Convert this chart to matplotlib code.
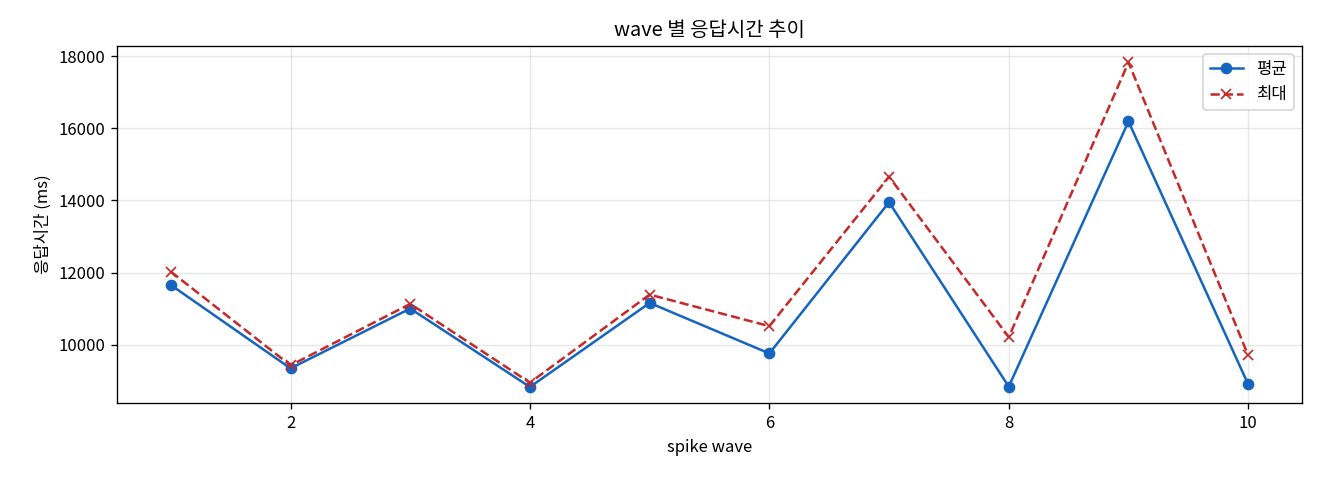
import matplotlib
matplotlib.use("Agg")
import matplotlib.pyplot as plt

plt.rcParams['font.family'] = ['Noto Sans CJK KR', 'DejaVu Sans']
plt.rcParams['axes.unicode_minus'] = False

waves = [1, 2, 3, 4, 5, 6, 7, 8, 9, 10]
avg_ms = [11657, 9346, 11004, 8831, 11160, 9760, 13950, 8840, 16188, 8904]
max_ms = [12026, 9429, 11133, 8950, 11390, 10516, 14659, 10212, 17827, 9705]

fig, ax = plt.subplots(figsize=(11, 4), dpi=120)

ax.plot(waves, avg_ms, marker='o', linestyle='-', color='#1565C0', label='평균')
ax.plot(waves, max_ms, marker='x', linestyle='--', color='#C62828', label='최대')

ax.set_title('wave 별 응답시간 추이')
ax.set_xlabel('spike wave')
ax.set_ylabel('응답시간 (ms)')
ax.grid(True, alpha=0.3)
ax.legend(loc='upper right')

# 축 위치는 원본에 맞춤
fig.subplots_adjust(left=0.0886, right=0.9864, top=0.904, bottom=0.160)
fig.savefig('out.png')
